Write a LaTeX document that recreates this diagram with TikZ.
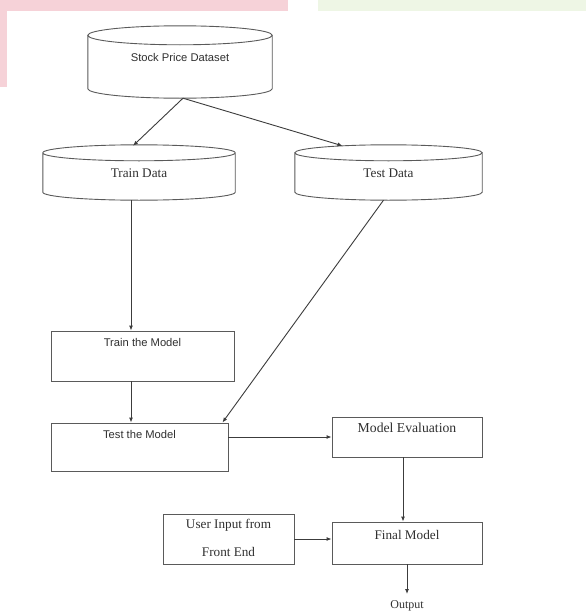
\documentclass[tikz,border=0pt]{standalone}
\usepackage{fontspec}
\setmainfont{Liberation Serif}
\newfontfamily\arialf{Liberation Sans}
\usetikzlibrary{arrows.meta,calc}

\definecolor{inkline}{HTML}{3C3C3C}
\definecolor{inkbox}{HTML}{5A5A5A}
\definecolor{inktext}{HTML}{303030}
\definecolor{washpink}{HTML}{F6D2D8}
\definecolor{washgreen}{HTML}{EEF6E5}

\tikzset{
  outline/.style={draw=inkbox, line width=0.9pt},
  blockbox/.style={outline, rectangle, inner sep=0pt},
  drumbox/.style={rectangle, inner sep=0pt, draw=none},
  seriflbl/.style={text=inktext, inner sep=0pt, font=\fontsize{13.2}{15}\selectfont},
  sanslbl/.style={text=inktext, inner sep=0pt, font=\arialf\fontsize{11.2}{13}\selectfont},
  arr/.style={draw=inkline, line width=0.9pt, -{Latex[length=5pt,width=4pt]}},
}

% database drum drawn round an empty rectangular node: #1 node, #2 cap radius
\newcommand\drumshape[2]{%
  \draw[outline] let \p1=($(#1.north west)$), \p2=($(#1.south east)$),
        \n1={(\x2-\x1)/2} in
    ([yshift=-#2]#1.north) ellipse [x radius=\n1, y radius=#2]
    (\x1,\y1-#2) -- (\x1,\y2+#2)
      arc [start angle=180, end angle=360, x radius=\n1, y radius=#2]
      -- (\x2,\y1-#2);
}

\begin{document}
\begin{tikzpicture}[x=1pt, y=-1pt]
  % page area
  \useasboundingbox (0,0) rectangle (586,613);
  \fill[white] (0,0) rectangle (586,613);
  % faint header colours along the top edge
  \fill[washpink] (0,0) rectangle (288,11);
  \fill[washpink] (0,0) rectangle (7,87);
  \fill[washgreen] (318,0) rectangle (586,11);

  % data stores
  \node[drumbox, minimum width=184pt, minimum height=72pt] (stock) at (180,62) {};
  \node[drumbox, minimum width=192pt, minimum height=55pt] (trainD) at (139,172.5) {};
  \node[drumbox, minimum width=187pt, minimum height=55pt] (testD) at (388.5,172.5) {};
  \drumshape{stock}{9.5pt}
  \drumshape{trainD}{8pt}
  \drumshape{testD}{8pt}
  \node[sanslbl] (stockTxt) at (180,57) {Stock Price Dataset};
  \node[seriflbl] (trainDTxt) at (139,173) {Train Data};
  \node[seriflbl] (testDTxt) at (388.5,173) {Test Data};

  % process blocks
  \node[blockbox, minimum width=183pt, minimum height=50pt] (trainM) at (142.5,356) {};
  \node[blockbox, minimum width=177pt, minimum height=48pt] (testM) at (139.5,447) {};
  \node[blockbox, minimum width=150pt, minimum height=40pt] (eval) at (407,437) {};
  \node[blockbox, minimum width=150pt, minimum height=42pt] (final) at (407,543) {};
  \node[blockbox, minimum width=131pt, minimum height=50pt] (user) at (228.5,539) {};

  \node[sanslbl] (trainMTxt) at ([yshift=-12pt]trainM.north) {Train the Model};
  \node[sanslbl] (testMTxt) at ([yshift=-12pt]testM.north) {Test the Model};
  \node[seriflbl, font=\fontsize{13.7}{15}\selectfont] (evalTxt) at ([yshift=-11pt]eval.north) {Model Evaluation};
  \node[seriflbl] (finalTxt) at ([yshift=-13pt]final.north) {Final Model};
  \node[seriflbl, align=center, font=\fontsize{13.2}{28}\selectfont] (userTxt) at ([yshift=1pt]user.center) {User Input from\\Front End};
  \node[seriflbl, font=\fontsize{12}{14}\selectfont, anchor=north] (output) at (407,600) {Output};

  % connectors
  \coordinate (trainIn) at ([xshift=-11.5pt]trainM.north);
  \draw[arr] ([xshift=3pt]stock.south) -- ([xshift=-6pt,yshift=-1pt]trainD.north);
  \draw[arr] ([xshift=3pt]stock.south) -- ([xshift=-46pt,yshift=-1pt]testD.north);
  \draw[arr] (trainD.south -| trainIn) -- (trainIn);
  \draw[arr] (trainM.south -| trainIn) -- (testM.north -| trainIn);
  \draw[arr] ([xshift=-5pt]testD.south) -- ([xshift=-6pt]testM.north east);
  \draw[arr] (testM.east |- eval.west) -- (eval.west);
  \draw[arr] ([xshift=-4pt]eval.south) -- ([xshift=-4pt]final.north);
  \draw[arr] (user.east) -- (final.west |- user.east);
  \draw[arr] (final.south) -- ([yshift=6pt]output.north);
\end{tikzpicture}
\end{document}
